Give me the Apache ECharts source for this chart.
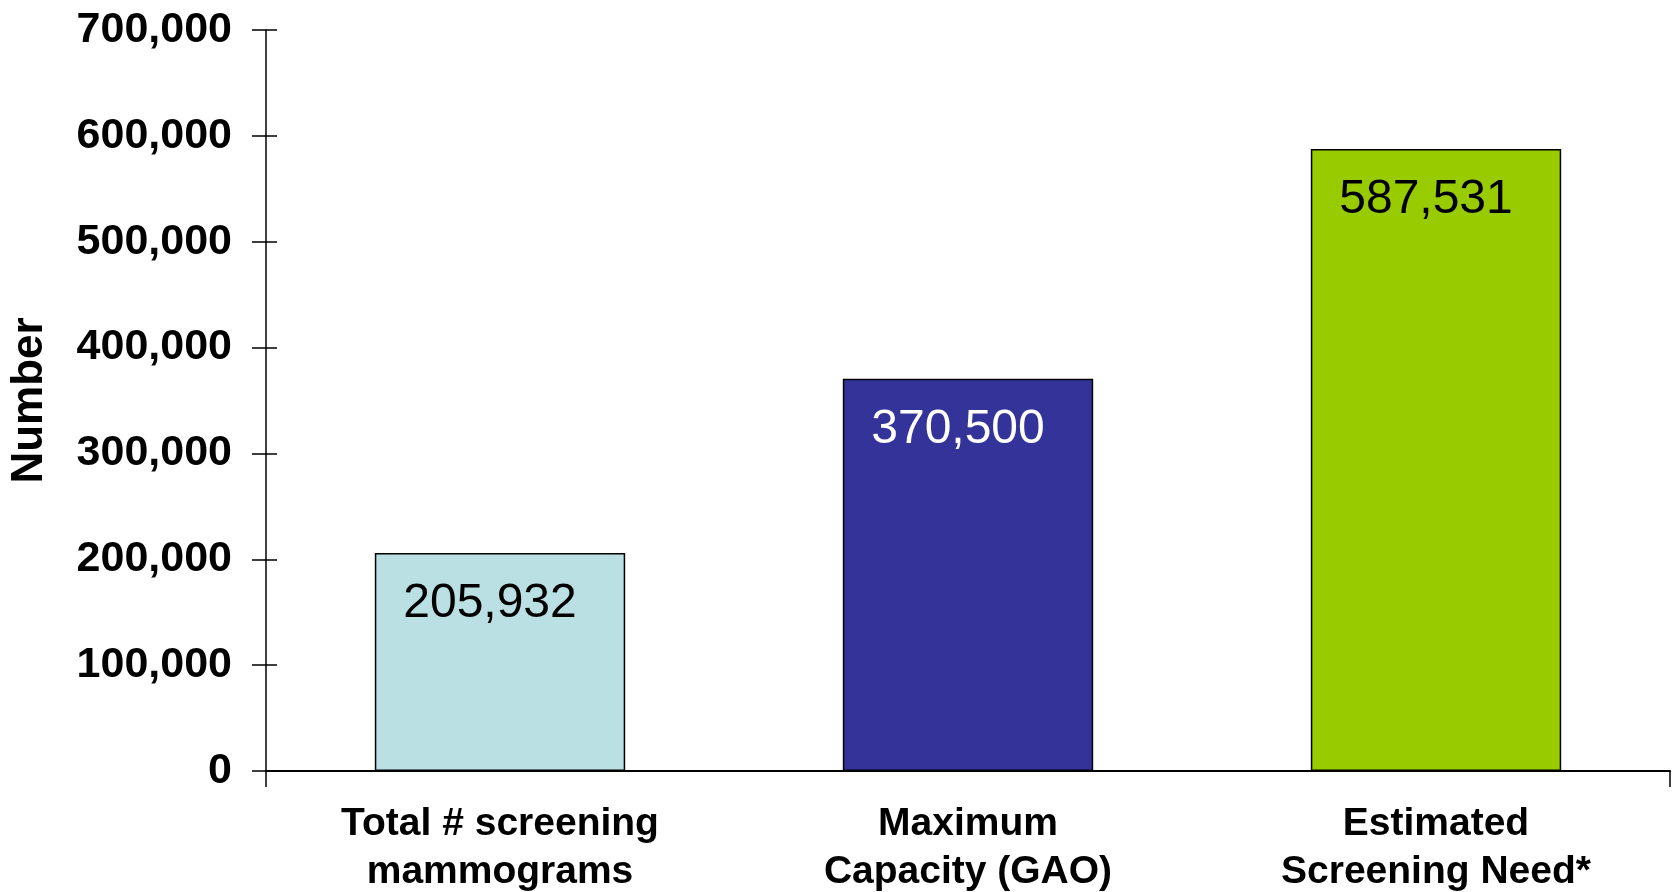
<!DOCTYPE html>
<head>
    <meta charset="utf-8">
    <title>Screening mammograms</title>
    <script src="https://cdn.jsdelivr.net/npm/echarts@6/dist/echarts.min.js"></script>
    <style>
        html, body { margin: 0; padding: 0; background: #fff; }
        #main { width: 1674px; height: 892px; }
    </style>
</head>
<body>
    <div id="main"></div>
    <script type="text/javascript">
        var categories = ['Total # screening\nmammograms', 'Maximum\nCapacity (GAO)', 'Estimated\nScreening Need*'];
        var values = [205932, 370500, 587531];
        var barColors = ['#BAE0E3', '#333399', '#99CC00'];
        var labelColors = ['#000000', '#ffffff', '#000000'];
        var yMin = 0, yMax = 700000, yStep = 100000;

        var font = '"Liberation Sans", Arial, sans-serif';
        var myChart = echarts.init(document.getElementById('main'));

        var barData = [];
        for (var i = 0; i < values.length; i++) {
            barData.push({
                value: values[i],
                itemStyle: { color: barColors[i] },
                label: { color: labelColors[i] }
            });
        }

        var option = {
            animation: false,
            grid: { left: 266, top: 30, right: 4, bottom: 121, outerBoundsMode: 'none', containLabel: false },
            xAxis: [
                {
                    type: 'category',
                    data: categories,
                    axisLine: { lineStyle: { color: '#000', width: 2 } },
                    axisTick: { show: false },
                    axisLabel: {
                        margin: 29,
                        color: '#000',
                        fontFamily: font,
                        fontWeight: 'bold',
                        fontSize: 39,
                        lineHeight: 48
                    }
                },
                {
                    // end ticks hanging below the category axis
                    type: 'value',
                    position: 'bottom',
                    min: 0, max: 1, interval: 1,
                    axisLine: { show: false },
                    axisTick: { show: true, length: 16, lineStyle: { color: '#000', width: 1.5 } },
                    axisLabel: { show: false },
                    splitLine: { show: false }
                }
            ],
            yAxis: [
                {
                    type: 'value',
                    min: yMin, max: yMax, interval: yStep,
                    name: 'Number',
                    nameLocation: 'middle',
                    nameGap: 214,
                    nameRotate: 90,
                    nameTextStyle: {
                        color: '#000',
                        fontFamily: font,
                        fontWeight: 'bold',
                        fontSize: 44
                    },
                    axisLine: { show: true, lineStyle: { color: '#000', width: 1.5 } },
                    axisTick: { show: true, length: 14, lineStyle: { color: '#000', width: 1.5 } },
                    splitLine: { show: false },
                    axisLabel: {
                        margin: 34,
                        color: '#000',
                        fontFamily: font,
                        fontWeight: 'bold',
                        fontSize: 43,
                        formatter: function (v) { return v.toLocaleString('en-US'); }
                    }
                },
                {
                    // inner half of the crossing ticks
                    type: 'value',
                    position: 'left',
                    min: yMin, max: yMax, interval: yStep,
                    axisLine: { show: false },
                    axisTick: { show: true, inside: true, length: 11, lineStyle: { color: '#000', width: 1.5 } },
                    axisLabel: { show: false },
                    splitLine: { show: false }
                }
            ],
            series: [
                {
                    type: 'bar',
                    data: barData,
                    barWidth: '53.5%',
                    itemStyle: { borderColor: '#000', borderWidth: 1.5 },
                    label: {
                        show: true,
                        position: 'insideTop',
                        distance: 27,
                        offset: [-10, 0],
                        fontFamily: font,
                        fontSize: 48,
                        formatter: function (p) { return p.value.toLocaleString('en-US'); }
                    }
                }
            ]
        };
        myChart.setOption(option);
    </script>
</body>
